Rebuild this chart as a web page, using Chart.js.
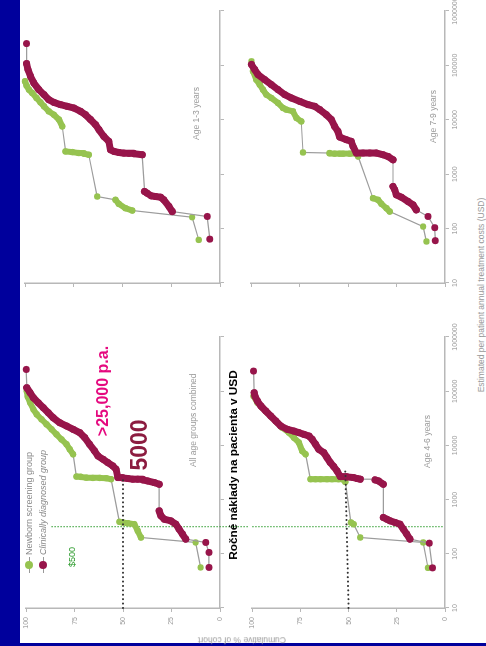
<!DOCTYPE html>
<html><head><meta charset="utf-8">
<script src="https://cdn.jsdelivr.net/npm/chart.js@4"></script>
<style>
html,body{margin:0;padding:0;background:#fff;overflow:hidden;width:486px;height:646px}
#slide{position:absolute;left:0;top:0;width:646px;height:486px;transform-origin:0 0;transform:translateY(646px) rotate(-90deg);background:#fff;font-family:'Liberation Sans',Arial,sans-serif;overflow:hidden}
#slide canvas{position:absolute}
.t{position:absolute;white-space:nowrap;line-height:1}
.lg{position:absolute;left:73px;width:16px;height:1px;background:#999}
.lg i{position:absolute;left:4px;top:-4px;width:8px;height:8px;border-radius:50%}
</style></head><body>
<div id="slide">
  <div style="position:absolute;left:0;top:0;width:646px;height:20px;background:#00009c"></div>
  <div style="position:absolute;left:0;top:0;width:3px;height:486px;background:#00009c"></div>
  <canvas id="cA"></canvas><canvas id="cB"></canvas><canvas id="cC"></canvas><canvas id="cD"></canvas>

  <div class="lg" style="top:29px"><i style="background:#96c350"></i></div>
  <div class="t" style="left:91px;top:29px;transform:translateY(-50%);font-size:9px;color:#888">Newborn screening group</div>
  <div class="lg" style="top:43px"><i style="background:#97154a"></i></div>
  <div class="t" style="left:91px;top:43px;transform:translateY(-50%);font-size:9px;color:#888;font-style:italic">Clinically diagnosed group</div>
  <div class="t" style="left:89px;top:72px;transform:translate(-50%,-50%);font-size:9px;color:#2a9a2a">$500</div>

  <div class="t" style="left:255px;top:103px;transform:translate(-50%,-50%);font-size:16px;font-weight:bold;color:#e5097f">&gt;25,000 p.a.</div>
  <div class="t" style="left:201px;top:139px;transform:translate(-50%,-50%);font-size:23px;font-weight:bold;color:#8c1c40">5000</div>
  <div class="t" style="left:181px;top:234px;transform:translate(-50%,-50%);font-size:11.8px;font-weight:bold;color:#000">Ročné náklady na pacienta v USD</div>

  <div class="t" style="left:179px;top:193px;transform:translateY(-50%);font-size:8.5px;color:#999">All age groups combined</div>
  <div class="t" style="left:178px;top:427px;transform:translateY(-50%);font-size:8.5px;color:#999">Age 4-6 years</div>
  <div class="t" style="left:506px;top:196px;transform:translateY(-50%);font-size:8.5px;color:#999">Age 1-3 years</div>
  <div class="t" style="left:503px;top:433px;transform:translateY(-50%);font-size:8.5px;color:#999">Age 7-9 years</div>

  <div class="t" style="left:6px;top:242px;transform:translate(-50%,-50%) rotate(-90deg);font-size:8.5px;color:#999">Cumulative % of cohort</div>
  <div class="t" style="left:351px;top:481px;transform:translate(-50%,-50%);font-size:8.5px;color:#999">Estimated per patient annual treatment costs (USD)</div>
</div>
<script>
// axis ticks
const costTicks = [10, 100, 1000, 10000, 100000, 1000000];
const pctTicks = [0, 25, 50, 75, 100];

// All age groups combined
const allRedCost = [56,106,162,187,231,285,352,406,435,501,620,1920,2060,2210,2310,2380,2380,2450,2510,2550,3630,4180,4820,5550,6380,7890,10500,13900,17200,19800,22800,26200,32400,40100,49600,61200,75900,93800,116000,252000];
const allRedPct  = [5.7,5.7,7.4,17.7,19.4,21.1,22.8,25.4,28.8,30.5,31.4,31.4,33.9,37.4,39.9,42.5,45.0,47.6,50.2,52.7,53.6,55.3,57.9,60.4,63.0,64.7,67.3,69.8,72.4,75.8,79.2,82.7,86.1,88.6,91.2,93.8,96.3,98.0,99.7,100];
const allGreenCost = [56,162,200,266,352,367,378,389,2380,2480,2510,2510,2550,2620,2660,6860,8470,10500,12900,16000,19800,24500,30300,37400,46200,61400,79100,101000];
const allGreenPct  = [10.0,12.6,40.8,42.5,44.2,47.6,50.2,51.9,56.2,58.7,62.1,65.6,69.0,71.9,74.1,75.8,77.5,79.2,81.8,84.4,86.9,89.5,92.1,94.6,96.3,98.0,99.2,99.7];

// Age 1-3 years
const a13RedCost = [64,167,206,255,338,378,389,400,448,481,2280,2380,2410,2450,2510,2620,2810,4010,4960,6580,8130,10100,12400,14300,16500,17700,19000,20900,23400,29000,35800,47500,63100,83800,108000,252000];
const a13RedPct  = [5.2,6.6,24.5,26.2,28.8,30.5,33.1,35.3,37.4,38.7,39.9,44.2,46.7,49.3,51.9,54.4,56.2,57.0,59.6,62.1,63.8,66.4,69.0,71.5,75.0,78.4,81.8,85.2,87.8,90.3,92.9,95.5,97.2,98.5,99.2,99.2];
const a13GreenCost = [62,162,215,237,285,338,389,2280,2380,2450,2550,2620,7570,10100,12400,14300,17700,20900,25200,31100,35800,42500,51100];
const a13GreenPct  = [10.9,14.3,45.0,48.5,51.9,53.6,63.0,67.3,69.8,72.4,75.8,79.2,80.9,82.6,85.2,87.8,90.3,92.1,94.1,96.3,98.0,99.2,100];

// Age 4-6 years
const a46RedCost = [55,157,187,231,285,352,378,406,435,468,1920,2210,2310,2380,2450,2550,2620,2660,3380,4060,4820,5960,7360,8470,10500,12900,14900,16000,17200,18400,19800,22800,28200,34800,43100,53200,65800,81300,93800,235000];
const a46RedPct  = [6.5,8.2,18.2,19.9,21.6,23.4,25.9,28.5,30.2,32.0,32.0,34.5,36.3,44.0,45.7,47.4,50.9,54.3,56.0,57.7,59.5,61.2,62.9,65.5,67.2,68.9,70.6,73.2,75.8,78.4,81.8,85.2,87.8,90.4,93.0,95.5,97.3,98.6,99.0,99.3];
const a46GreenCost = [55,162,200,352,378,2120,2310,2380,2380,2380,2380,2380,2380,6860,7890,11300,13900,17200,21200,26200,32400,40100,49700,61400,81300];
const a46GreenPct  = [8.8,11.3,44.0,47.4,48.8,51.7,52.6,55.2,58.6,61.2,64.6,67.2,69.8,72.3,74.1,75.8,78.4,80.9,84.4,86.9,89.5,92.1,94.7,97.3,99.3];

// Age 7-9 years
const a79RedCost = [60,104,167,221,273,315,378,418,516,594,1840,2120,2280,2450,2450,2450,2450,3240,4010,4310,4820,6120,7570,10100,12400,15400,17700,19000,21800,25200,29000,35800,44300,54800,67800,83800,104000];
const a79RedPct  = [5.0,5.3,8.8,14.8,16.5,19.1,22.5,25.1,25.9,26.8,26.8,29.4,32.0,35.4,38.8,42.3,45.7,47.4,48.3,50.9,54.3,55.2,56.9,58.6,61.2,64.6,67.2,70.6,74.9,79.2,82.6,86.1,89.5,93.0,96.4,98.1,99.8];
const a79GreenCost = [58,109,206,237,285,338,362,2120,2380,2380,2380,2380,2380,2450,2510,9350,10800,14300,15400,16500,20400,25200,29000,35800,44300,54800,78000,119000];
const a79GreenPct  = [9.6,11.3,28.5,30.2,32.8,34.5,37.1,44.8,45.7,49.1,52.6,54.3,56.9,59.5,73.2,74.1,76.6,78.4,81.8,83.5,86.1,89.5,92.1,93.8,95.5,97.3,99.0,99.8];

// reference lines
const thresholdCost = 316;               // green dotted "$500" marker
const thresholdPctAll = [87, -16];
const thresholdPct46 = [100, 1];
const medianAllCost = [10, 2400], medianAllPct = [50, 50];
const median46Cost = [10, 3400], median46Pct = [50, 51.7];

const RED = '#97154a', GREEN = '#96c350', LINK = '#9c9c9c', AX = '#b8b8b8';
const M = {l: 34, t: 8, r: 22, b: 28};
Chart.defaults.font.family = "'Liberation Sans', Arial, sans-serif";

function pts(c, p) { return c.map((v, i) => ({x: v, y: p[i]})); }
function dist(ctx) { return Math.hypot(ctx.p1.x - ctx.p0.x, ctx.p1.y - ctx.p0.y); }
function series(cost, pct, color, r, w) {
  return {data: pts(cost, pct), showLine: true, clip: false, borderColor: LINK, borderWidth: 1.2,
    pointRadius: r, pointHoverRadius: r, pointBackgroundColor: color, pointBorderColor: color, pointBorderWidth: 0,
    borderCapStyle: 'round', borderJoinStyle: 'round', tension: 0,
    segment: {borderColor: c => dist(c) < 10 ? color : LINK, borderWidth: c => dist(c) < 10 ? w : 1.2}};
}
function blackDots(cost, pct) {
  return {data: pts(cost, pct), showLine: true, clip: false, borderColor: '#333', borderWidth: 2,
    borderDash: [0.1, 4.3], borderCapStyle: 'round', pointRadius: 0};
}
function greenDots(pct) {
  return {data: pts([thresholdCost, thresholdCost], pct), showLine: true, clip: false, borderColor: '#2a9a2a',
    borderWidth: 1, borderDash: [1.5, 1.5], pointRadius: 0};
}
function panel(id, rect, showX, showY, datasets) {
  const cv = document.getElementById(id);
  const W = rect.r - rect.l + M.l + M.r, H = rect.b - rect.t + M.t + M.b;
  cv.width = W; cv.height = H;
  cv.style.left = (rect.l - M.l) + 'px'; cv.style.top = (rect.t - M.t) + 'px';
  cv.style.width = W + 'px'; cv.style.height = H + 'px';
  const grid = {drawOnChartArea: false, drawTicks: true, tickLength: 4, color: AX, lineWidth: 1};
  const border = {color: AX, width: 1.5};
  new Chart(cv, {type: 'scatter', data: {datasets},
    options: {responsive: false, animation: false, devicePixelRatio: 1, events: [],
      layout: {padding: {left: 0, top: M.t, right: M.r, bottom: 0}},
      plugins: {legend: {display: false}, tooltip: {enabled: false}},
      scales: {
        x: {type: 'logarithmic', min: 10, max: 1000000,
          afterFit: s => { s.height = M.b; },
          afterBuildTicks: s => { s.ticks = costTicks.map(v => ({value: v})); },
          ticks: {display: showX, autoSkip: false, maxRotation: 0, minRotation: 0, padding: 2, color: '#999',
            font: {size: 7}, callback: v => String(v)},
          grid, border},
        y: {type: 'linear', min: 0, max: 100,
          afterFit: s => { s.width = M.l; },
          afterBuildTicks: s => { s.ticks = pctTicks.map(v => ({value: v})); },
          ticks: {display: showY, padding: 5, color: '#999', font: {size: 7}, callback: v => String(v)},
          grid, border}
      }}});
}

panel('cA', {l: 38, t: 25, r: 309, b: 220}, false, true, [
  blackDots(medianAllCost, medianAllPct),
  series(allRedCost, allRedPct, RED, 3.5, 7),
  series(allGreenCost, allGreenPct, GREEN, 3.2, 6),
  greenDots(thresholdPctAll)]);
panel('cB', {l: 363, t: 25, r: 635, b: 220}, false, false, [
  series(a13RedCost, a13RedPct, RED, 3.5, 7),
  series(a13GreenCost, a13GreenPct, GREEN, 3.2, 6)]);
panel('cC', {l: 38, t: 251, r: 309, b: 445}, true, true, [
  blackDots(median46Cost, median46Pct),
  series(a46RedCost, a46RedPct, RED, 3.5, 7),
  series(a46GreenCost, a46GreenPct, GREEN, 3.2, 6),
  greenDots(thresholdPct46)]);
panel('cD', {l: 363, t: 251, r: 635, b: 445}, true, false, [
  series(a79RedCost, a79RedPct, RED, 3.5, 7),
  series(a79GreenCost, a79GreenPct, GREEN, 3.2, 6)]);
</script>
</body></html>
